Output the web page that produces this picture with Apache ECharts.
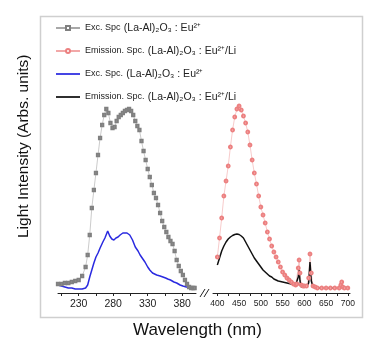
<!DOCTYPE html>
<html>
<head>
<meta charset="utf-8">
<script src="https://cdn.jsdelivr.net/npm/echarts@6/dist/echarts.min.js"></script>
<style>
    html, body { margin: 0; padding: 0; background: #fff; }
    #chart { width: 371px; height: 347px; }
</style>
</head>
<body>
<div id="chart"></div>
<script>
// excitation spectra (left part of the broken axis)
const excGreyWl = [200, 205, 210, 215, 220, 225, 230, 235, 240, 243, 246, 249, 252, 255, 258, 261, 264, 267, 270, 273, 276, 279, 282, 285, 288, 291, 294, 297, 300, 303, 306, 309, 312, 315, 318, 321, 324, 327, 330, 333, 336, 339, 342, 345, 348, 351, 354, 357, 360, 363, 366, 369, 372, 375, 378, 381, 384, 387, 390, 393, 396, 398];
const excGrey = [9, 9, 10, 10, 11, 12, 13, 17, 26, 38, 58, 85, 103, 120, 138, 155, 168, 178, 184, 180, 170, 165, 166, 172, 176, 178, 180, 182, 183, 184, 182, 178, 172, 167, 163, 152, 142, 133, 124, 116, 108, 100, 95, 88, 80, 72, 66, 61, 56, 52, 49, 42, 33, 27, 22, 18, 13, 9, 6, 5, 5, 5];
const excBlueWl = [200, 205, 210, 215, 220, 225, 230, 235, 240, 243, 246, 249, 252, 255, 258, 261, 265, 268, 272, 275, 278, 281, 284, 287, 290, 294, 297, 300, 304, 308, 312, 316, 319, 323, 326, 330, 333, 337, 343, 348, 352, 356, 359, 361, 363, 368, 372, 377, 381, 386, 390, 394, 398];
const excBlue = [8, 7, 6, 5, 5, 4, 4, 4, 5, 8, 16, 23, 30, 36, 40, 45, 51, 55, 62, 57, 54, 53, 55, 56, 58, 60, 60, 60, 58, 53, 46, 42, 38, 34, 31, 26, 23, 20, 18, 17, 16, 15, 14, 15, 13, 11, 10, 8, 7, 6, 6, 6, 6];

// emission spectra (right part)
const emiRedWl = [400, 405, 410, 415, 420, 425, 430, 435, 440, 445, 450, 455, 460, 465, 470, 475, 480, 485, 490, 495, 500, 505, 510, 515, 520, 525, 530, 535, 540, 545, 550, 555, 560, 565, 570, 575, 580, 583, 586, 588, 590, 593, 597, 600, 605, 610, 613, 616, 620, 625, 630, 640, 650, 660, 670, 680, 684, 686, 688, 692, 700];
const emiRed = [36, 55, 75, 97, 112, 127, 146, 163, 176, 184, 187, 183, 177, 170, 161, 148, 133, 120, 109, 97, 86, 78, 70, 61, 54, 47, 41, 36, 31, 26, 21, 18, 15, 13, 11, 9, 8, 9, 25, 33, 20, 8, 7, 7, 7, 15, 39, 20, 7, 6, 5, 5, 5, 5, 5, 5, 8, 11, 6, 5, 5];
const emiBlackWl = [400, 405, 410, 415, 420, 425, 430, 435, 440, 445, 450, 455, 460, 465, 470, 475, 480, 485, 490, 495, 500, 505, 510, 515, 520, 525, 530, 540, 550, 560, 570, 580, 584, 586, 588, 590, 593, 600, 605, 610, 613, 616, 620, 630, 640, 650, 660, 670, 680, 684, 686, 688, 700];
const emiBlack = [28, 35, 42, 47, 51, 54, 56, 57.5, 58.5, 59, 58.5, 57, 55, 51, 47, 43, 39, 35, 32, 29, 26, 23, 21, 19, 17, 16, 14, 12, 11, 10, 9, 8, 8, 16, 23, 12, 6, 6, 6, 10, 31, 12, 6, 5, 5, 5, 5, 5, 5, 7, 10, 5, 5];

const leftLabels = [230, 280, 330, 380];
const leftTicks = [205, 230, 255, 280, 305, 330, 355, 380];
const rightLabels = [400, 450, 500, 550, 600, 650, 700];
const rightTicks = [400, 425, 450, 475, 500, 525, 550, 575, 600, 625, 650, 675, 700];

const legendText = {
    excA: "{a|Exc. Spc} {b|(La-Al)₂O₃ : Eu²⁺}",
    emiA: "{a|Emission. Spc.} {b|(La-Al)₂O₃ : Eu²⁺/Li}",
    excB: "{a|Exc. Spc.} {b|(La-Al)₂O₃ : Eu²⁺}",
    emiB: "{a|Emission. Spc.} {b|(La-Al)₂O₃ : Eu²⁺/Li}"
};
const lineIcon = "path://M0,0 H22 V1.6 H0 Z";

function pairs(xs, ys) {
    return xs.map((x, i) => [x, ys[i]]);
}

function xAxisOf(idx, min, max, labels, ticks, fontSize) {
    return {
        type: "value",
        gridIndex: idx,
        min: min,
        max: max,
        axisLine: { show: true, onZero: false, lineStyle: { color: "#222", width: 1 } },
        axisTick: { show: true, customValues: ticks, length: 3, lineStyle: { color: "#222" } },
        axisLabel: { customValues: labels, fontSize: fontSize, color: "#222", margin: 6, fontFamily: "Liberation Sans" },
        splitLine: { show: false }
    };
}

function yAxisOf(idx) {
    return {
        type: "value",
        gridIndex: idx,
        min: 0,
        max: 200,
        show: false
    };
}

const chart = echarts.init(document.getElementById("chart"));
chart.setOption({
    animation: false,
    grid: [
        { left: 58, width: 138, top: 93, bottom: 54 },
        { left: 213, width: 137, top: 93, bottom: 54 }
    ],
    xAxis: [
        xAxisOf(0, 200, 400, leftLabels, leftTicks, 10.5),
        xAxisOf(1, 390, 705, rightLabels, rightTicks, 8.5)
    ],
    yAxis: [yAxisOf(0), yAxisOf(1)],
    legend: {
        orient: "vertical",
        left: 50,
        top: 17,
        itemGap: 11,
        itemWidth: 24,
        itemHeight: 5,
        data: [
            { name: "excA" },
            { name: "emiA" },
            { name: "excB", icon: lineIcon },
            { name: "emiB", icon: lineIcon }
        ],
        formatter: name => legendText[name],
        textStyle: {
            color: "#222",
            fontFamily: "Liberation Sans",
            rich: {
                a: { fontSize: 9, color: "#222", fontFamily: "Liberation Sans" },
                b: { fontSize: 10.5, color: "#222", fontFamily: "Liberation Sans" }
            }
        }
    },
    series: [
        {
            name: "excA",
            type: "line",
            xAxisIndex: 0,
            yAxisIndex: 0,
            data: pairs(excGreyWl, excGrey),
            symbol: "emptyRect",
            symbolSize: 2.3,
            itemStyle: { color: "#808080", borderWidth: 0.6 },
            lineStyle: { color: "#a8a8a8", width: 0.6 }
        },
        {
            name: "emiA",
            type: "line",
            xAxisIndex: 1,
            yAxisIndex: 1,
            data: pairs(emiRedWl, emiRed),
            symbol: "emptyCircle",
            symbolSize: 2.8,
            itemStyle: { color: "#ec8080", borderWidth: 0.6 },
            lineStyle: { color: "#f2a8a8", width: 0.6 }
        },
        {
            name: "excB",
            type: "line",
            xAxisIndex: 0,
            yAxisIndex: 0,
            data: pairs(excBlueWl, excBlue),
            showSymbol: false,
            symbol: "none",
            itemStyle: { color: "#2a2ae0" },
            lineStyle: { color: "#2a2ae0", width: 1.5 }
        },
        {
            name: "emiB",
            type: "line",
            xAxisIndex: 1,
            yAxisIndex: 1,
            data: pairs(emiBlackWl, emiBlack),
            showSymbol: false,
            symbol: "none",
            itemStyle: { color: "#111" },
            lineStyle: { color: "#111", width: 1.5 }
        }
    ],
    graphic: [
        {
            type: "rect",
            shape: { x: 40.5, y: 16.5, width: 322, height: 301 },
            style: { fill: "none", stroke: "#cfcfcf", lineWidth: 1.5 },
            silent: true
        },
        {
            type: "line",
            shape: { x1: 200, y1: 297, x2: 205, y2: 289 },
            style: { stroke: "#222", lineWidth: 1 }
        },
        {
            type: "line",
            shape: { x1: 204, y1: 297, x2: 209, y2: 289 },
            style: { stroke: "#222", lineWidth: 1 }
        },
        {
            type: "text",
            left: 133,
            top: 322,
            style: { text: "Wavelength (nm)", fontSize: 17, fill: "#111", fontFamily: "Liberation Sans" }
        },
        {
            type: "text",
            x: 16,
            y: 238,
            rotation: Math.PI / 2,
            style: { text: "Light Intensity (Arbs. units)", fontSize: 15.5, fill: "#111", fontFamily: "Liberation Sans" }
        }
    ]
});
</script>
</body>
</html>
